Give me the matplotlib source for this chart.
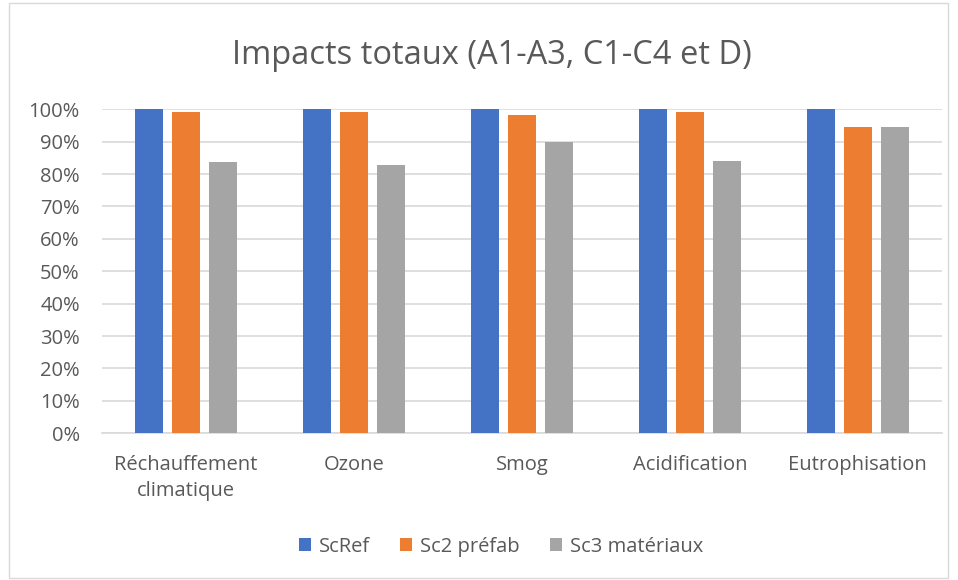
import numpy as np
import matplotlib.pyplot as plt
from matplotlib.patches import Rectangle

plt.rcParams['font.family'] = ['Open Sans', 'DejaVu Sans']

# Data
categories = ["Réchauffement\nclimatique", "Ozone", "Smog", "Acidification", "Eutrophisation"]
series_names = ["ScRef", "Sc2 préfab", "Sc3 matériaux"]
sc_ref = [100, 100, 100, 100, 100]
sc2_prefab = [99.3, 99.2, 98.1, 99.3, 94.4]
sc3_materiaux = [83.8, 82.8, 89.8, 84.1, 94.4]
yticks = [0, 10, 20, 30, 40, 50, 60, 70, 80, 90, 100]

colors = ["#4472C4", "#ED7D31", "#A5A5A5"]
text_color = "#595959"

fig = plt.figure(figsize=(9.58, 5.8), dpi=100)
ax = fig.add_axes([0.1065, 0.253, 0.8765, 0.5586])

# Chart border
fig.patches.append(Rectangle((0.009, 0.004), 0.981, 0.99, transform=fig.transFigure,
                             fill=False, edgecolor="#D9D9D9", linewidth=1))

x = np.arange(len(categories))
width = 0.167
offset = 0.22
for i, (vals, name) in enumerate(zip([sc_ref, sc2_prefab, sc3_materiaux], series_names)):
    ax.bar(x + (i - 1) * offset, vals, width=width, color=colors[i], label=name, zorder=3)

ax.set_xlim(-0.5, len(categories) - 0.5)
ax.set_ylim(0, 100)
ax.set_yticks(yticks)
ax.set_yticklabels([f"{v}%" for v in yticks])
ax.set_xticks(x)
ax.set_xticklabels(categories, linespacing=1.4)
ax.yaxis.grid(True, color="#D9D9D9", linewidth=1.2, zorder=0)
ax.set_axisbelow(True)
for s in ["top", "right", "left"]:
    ax.spines[s].set_visible(False)
ax.spines["bottom"].set_color("#D9D9D9")
ax.spines["bottom"].set_linewidth(1.2)
ax.tick_params(axis="both", length=0, labelsize=14.5, colors=text_color)
ax.tick_params(axis="x", pad=16)
ax.tick_params(axis="y", pad=16)

fig.text(0.513, 0.905, "Impacts totaux (A1-A3, C1-C4 et D)", ha="center", va="center",
         fontsize=23.5, color=text_color)

fig.legend(loc="center", bbox_to_anchor=(0.523, 0.057), ncol=3, frameon=False,
           fontsize=14.5, labelcolor=text_color, handlelength=0.6, handleheight=0.6,
           columnspacing=1.5, handletextpad=0.4)

plt.savefig("out.png", dpi=100)
